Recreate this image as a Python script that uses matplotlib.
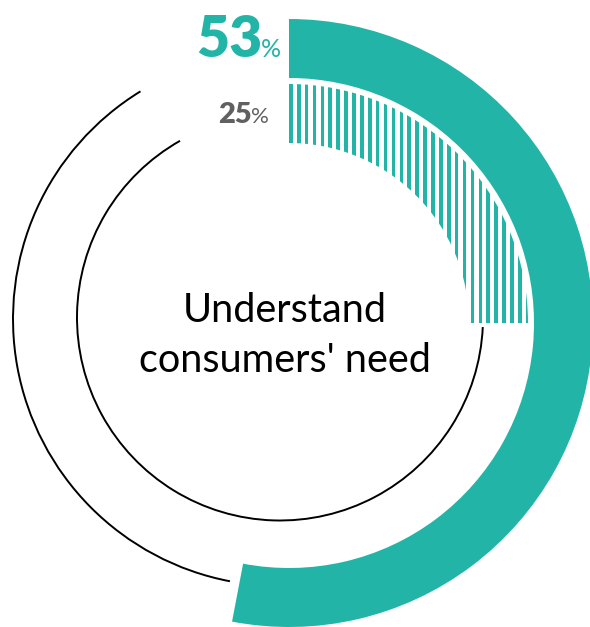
import matplotlib
matplotlib.use('Agg')
import matplotlib.pyplot as plt
import numpy as np
from matplotlib.patches import Wedge, Arc, Rectangle

# Values shown on the two rings (percent)
outer_pct = 53
inner_pct = 25
center_lines = ['Understand', "consumers' need"]

teal = '#22b5a7'
grey = '#606060'
fonts = ['Lato', 'DejaVu Sans']

W, H = 590, 627
fig = plt.figure(figsize=(W/100, H/100), dpi=100)
ax = fig.add_axes([0, 0, 1, 1])
ax.set_xlim(0, W)
ax.set_ylim(0, H)
ax.set_aspect('equal')
ax.axis('off')

def cw(frac):
    # fraction of a turn, clockwise from 12 o'clock -> matplotlib degrees
    return 90 - 360*frac

# Outer ring: solid teal band
c_ring = (289, 304)
ax.add_patch(Wedge(c_ring, 304, cw(outer_pct/100), 90, width=59,
                   facecolor=teal, edgecolor='none'))

# Inner ring: vertically striped band, clipped to the wedge
r_in = 239
inner = Wedge(c_ring, r_in, cw(inner_pct/100), 90, width=59,
              facecolor='none', edgecolor='none')
ax.add_patch(inner)
for x0 in np.arange(c_ring[0], c_ring[0] + r_in, 7.9):
    stripe = Rectangle((x0, c_ring[1] - 5), 3.6, r_in + 10,
                       facecolor=teal, edgecolor='none')
    ax.add_patch(stripe)
    stripe.set_clip_path(inner)

# Thin black tracks for the rest of each ring
ax.add_patch(Arc((280, 308), 534, 534, theta1=121.5, theta2=cw(outer_pct/100) + 360,
                 color='black', lw=1.4))
ax.add_patch(Arc((280, 309.5), 406, 406, theta1=119.5, theta2=cw(inner_pct/100) + 357.3,
                 color='black', lw=1.4))

renderer = fig.canvas.get_renderer()

def value_label(x_right, y, value, size, psize, color):
    # number right-aligned at x_right, small percent sign just after it
    t = ax.text(x_right, y, str(value), fontsize=size, fontweight='heavy',
                color=color, family=fonts, ha='right', va='baseline')
    bb = t.get_window_extent(renderer)
    ax.text(bb.x1 - 1, y, '%', fontsize=psize, color=color, family=fonts,
            ha='left', va='baseline')

value_label(262, H - 57, outer_pct, 41, 18, teal)
value_label(252, H - 123, inner_pct, 21, 16, grey)

# Centre caption
for txt, yb in zip(center_lines, [322, 372]):
    ax.text(285, H - yb, txt, fontsize=28.5, fontweight='normal', ha='center',
            va='baseline', family=fonts, color='black')

fig.savefig('out.png', dpi=100)
